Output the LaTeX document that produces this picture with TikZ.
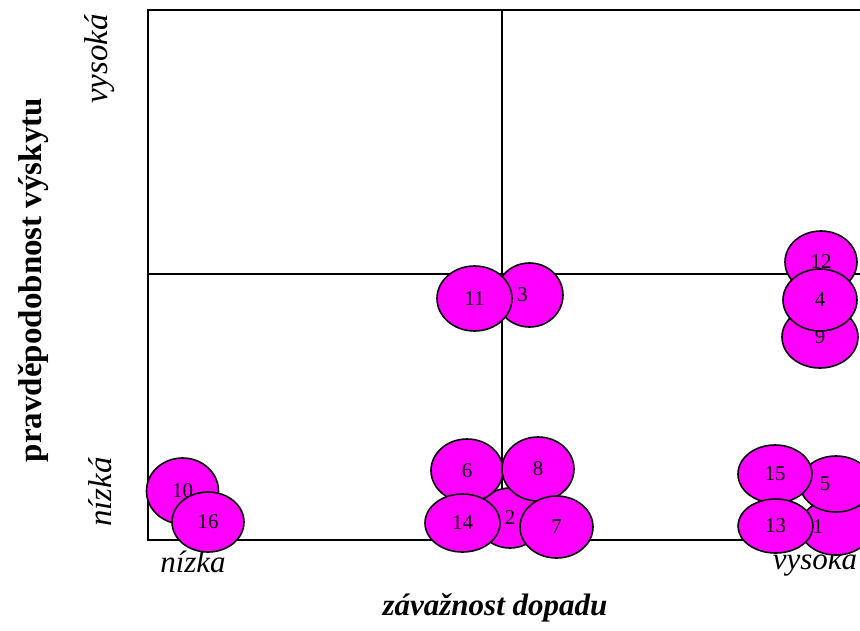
\documentclass[tikz,border=0pt]{standalone}
\usepackage{fontspec}
\setmainfont{Liberation Serif}
\usetikzlibrary{shapes.geometric}
\definecolor{riskfill}{RGB}{255,0,255}

\tikzset{
  grid line/.style={line width=2pt, black},
  blob/.style={ellipse, draw=black, line width=1.6pt, fill=riskfill, inner sep=0pt,
    font=\fontsize{21}{21}\selectfont},
  axis end/.style={font=\fontsize{31}{31}\selectfont\itshape, inner sep=0pt},
  yaxis end/.style={font=\fontsize{33}{33}\selectfont\itshape, inner sep=0pt, rotate=90},
  axis title/.style={font=\fontsize{33}{33}\selectfont\bfseries, inner sep=0pt},
}

\begin{document}
\begin{tikzpicture}[x=1pt, y=-1pt]
  \useasboundingbox (0,0) rectangle (860,630);

  % frame and quadrant lines
  \draw[grid line] (860,10) -- (148,10) -- (148,540) -- (860,540);
  \draw[grid line] (502,10) -- (502,540);
  \draw[grid line] (148,274) -- (860,274);

  % axis captions
  \node[axis title, rotate=90] (ytitle) at (33,280) {pravděpodobnost výskytu};
  \node[yaxis end] (yhigh) at (100,59) {vysoká};
  \node[yaxis end] (ylow) at (100,492) {nízká};
  \node[axis end] (xlow) at (193,562) {nízka};
  \node[axis end] (xhigh) at (815,562) {vysoká};
  \node[axis title, font=\fontsize{31}{31}\selectfont\bfseries\itshape] (xtitle) at (495,608) {závažnost dopadu};

  % risks, middle column
  \node[blob, minimum width=67pt, minimum height=64pt, text width=0pt, align=center] (r3) at (529.5,295) {\hspace*{-14pt}3};
  \node[blob, minimum width=75pt, minimum height=65pt] (r11) at (474.5,298.5) {11};
  \node[blob, minimum width=66pt, minimum height=60pt] (r2) at (510,518) {2};
  \node[blob, minimum width=72pt, minimum height=63pt] (r6) at (467,470.5) {6};
  \node[blob, minimum width=72pt, minimum height=64pt] (r8) at (538,469) {8};
  \node[blob, minimum width=75pt, minimum height=58pt] (r14) at (462.5,523) {14};
  \node[blob, minimum width=73pt, minimum height=62pt] (r7) at (556.5,527) {7};

  % risks, right column
  \node[blob, minimum width=72pt, minimum height=62pt] (r12) at (821,262) {12};
  \node[blob, minimum width=76pt, minimum height=62pt] (r9) at (820,337) {9};
  \node[blob, minimum width=74pt, minimum height=62pt] (r4) at (820,300) {4};

  \node[blob, minimum width=72pt, minimum height=56pt, text width=0pt, align=center] (r1) at (836,527) {\hspace*{-36pt}1};
  \node[blob, minimum width=72pt, minimum height=56pt, text width=0pt, align=center] (r5) at (836,484) {\hspace*{-22pt}5};
  \node[blob, minimum width=74pt, minimum height=58pt] (r15) at (775,474) {15};
  \node[blob, minimum width=75pt, minimum height=54pt] (r13) at (775.5,526) {13};

  % risks, left column
  \node[blob, minimum width=72pt, minimum height=66pt] (r10) at (182.5,491) {10};
  \node[blob, minimum width=72pt, minimum height=60pt] (r16) at (208,522) {16};
\end{tikzpicture}
\end{document}
